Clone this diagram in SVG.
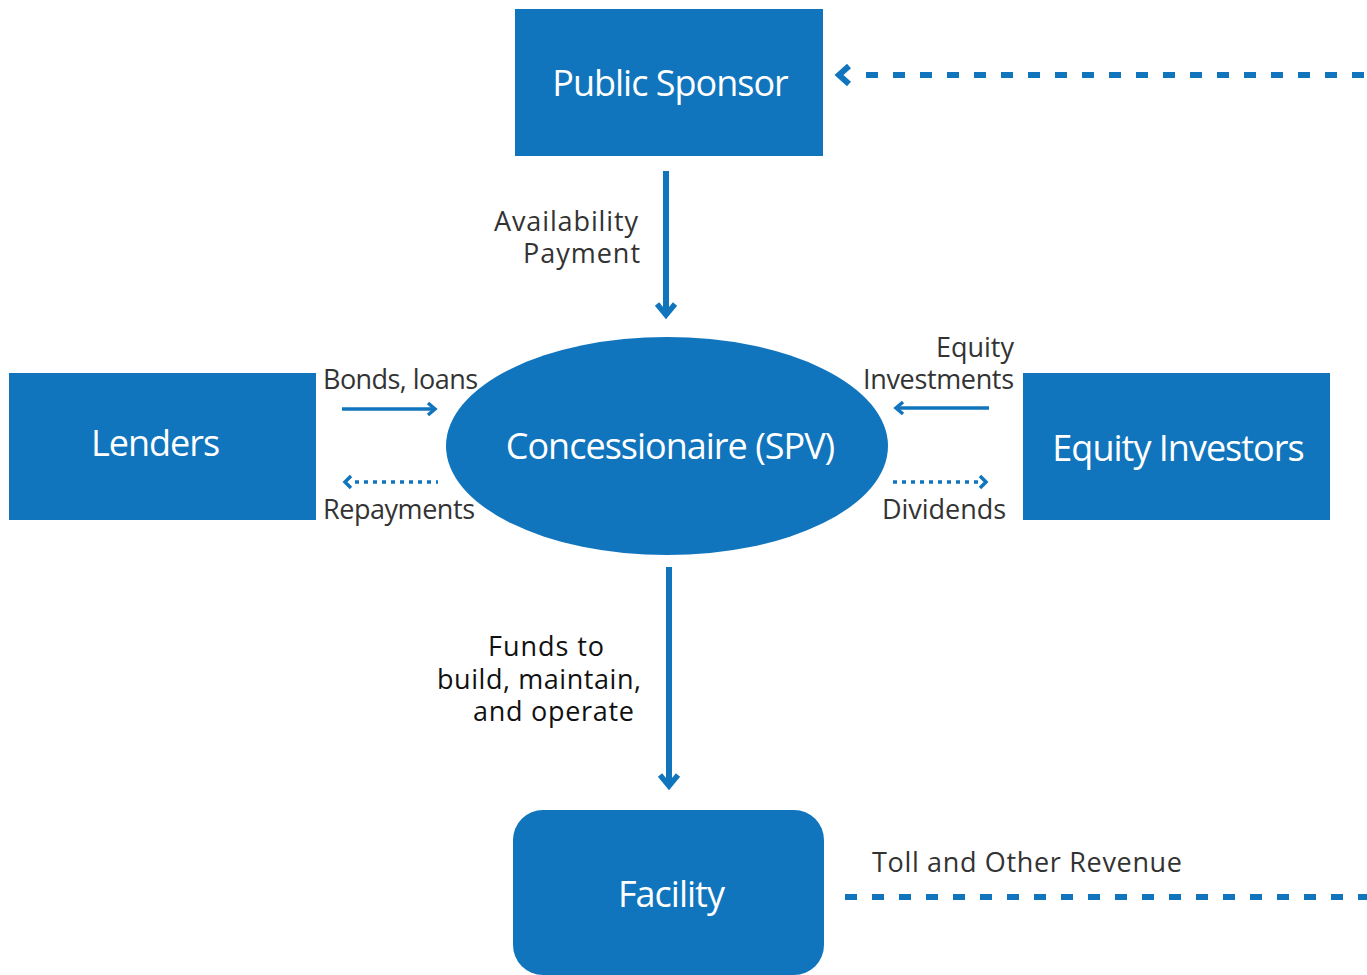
<svg xmlns="http://www.w3.org/2000/svg" width="1367" height="975" viewBox="0 0 1367 975">
  <defs>
    <style>
      .node { fill: #1175bd; }
      .ntext { fill: #ffffff; font-family: "Open Sans", "Noto Sans", sans-serif; font-size: 36px; text-anchor: middle; letter-spacing: -1px; }
      .lbl { fill: #333333; font-family: "Open Sans", "Noto Sans", sans-serif; font-size: 27px; }
      .lbl-dark { fill: #111111; }
      .main { stroke: #1175bd; stroke-width: 6; fill: none; }
      .thin { stroke: #1175bd; stroke-width: 3.5; fill: none; }
      .dots { stroke: #1175bd; stroke-width: 3.5; fill: none; stroke-dasharray: 4 5; }
      .dash { stroke: #1175bd; stroke-width: 6; fill: none; stroke-dasharray: 12 15; }
      .head { stroke: #1175bd; fill: none; stroke-linecap: butt; stroke-linejoin: miter; }
    </style>
  </defs>

  <g id="public-sponsor">
    <rect class="node" x="515" y="9" width="308" height="147"/>
    <text class="ntext" x="670" y="96">Public Sponsor</text>
  </g>

  <g id="lenders">
    <rect class="node" x="9" y="373" width="307" height="147"/>
    <text class="ntext" x="155" y="456">Lenders</text>
  </g>

  <g id="spv">
    <ellipse class="node" cx="667" cy="446" rx="221" ry="109"/>
    <text class="ntext" x="670" y="459">Concessionaire (SPV)</text>
  </g>

  <g id="equity-investors">
    <rect class="node" x="1023" y="373" width="307" height="147"/>
    <text class="ntext" x="1178" y="461">Equity Investors</text>
  </g>

  <g id="facility">
    <rect class="node" x="513" y="810" width="311" height="165" rx="30" ry="30"/>
    <text class="ntext" x="671" y="907">Facility</text>
  </g>

  <g id="connectors">
    <!-- revenue loop back to sponsor -->
    <line class="dash" x1="866" y1="75" x2="1367" y2="75"/>
    <polyline class="head" stroke-width="6" points="849,66 839,75 849,84"/>

    <!-- availability payment -->
    <line class="main" x1="666" y1="171" x2="666" y2="316"/>
    <polyline class="head" stroke-width="5.5" points="657,304 666,315 675,304"/>

    <!-- lenders flows -->
    <line class="thin" x1="342" y1="409" x2="434" y2="409"/>
    <polyline class="head" stroke-width="3.5" points="428,403 435,409 428,415"/>
    <line class="dots" x1="355" y1="482" x2="438" y2="482"/>
    <polyline class="head" stroke-width="3.5" points="351,476 345,482 351,488"/>

    <!-- equity flows -->
    <line class="thin" x1="898" y1="408" x2="989" y2="408"/>
    <polyline class="head" stroke-width="3.5" points="903,402 896,408 903,414"/>
    <line class="dots" x1="893" y1="482" x2="978" y2="482"/>
    <polyline class="head" stroke-width="3.5" points="980,476 986,482 980,488"/>

    <!-- funds to facility -->
    <line class="main" x1="669" y1="567" x2="669" y2="786"/>
    <polyline class="head" stroke-width="5.5" points="660,775 669,786 678,775"/>

    <!-- toll revenue -->
    <line class="dash" x1="845" y1="897" x2="1367" y2="897"/>
  </g>

  <g id="labels">
    <text class="lbl" x="494" y="231" textLength="144" lengthAdjust="spacing">Availability</text>
    <text class="lbl" x="523" y="263" textLength="117" lengthAdjust="spacing">Payment</text>
    <text class="lbl" x="323" y="389" textLength="155" lengthAdjust="spacing">Bonds, loans</text>
    <text class="lbl" x="323" y="519" textLength="152" lengthAdjust="spacing">Repayments</text>
    <text class="lbl" x="936" y="357" textLength="78" lengthAdjust="spacing">Equity</text>
    <text class="lbl" x="863" y="389" textLength="151" lengthAdjust="spacing">Investments</text>
    <text class="lbl" x="882" y="519" textLength="124" lengthAdjust="spacing">Dividends</text>
    <text class="lbl lbl-dark" x="488" y="656" textLength="116" lengthAdjust="spacing">Funds to</text>
    <text class="lbl lbl-dark" x="437" y="689" textLength="204" lengthAdjust="spacing">build, maintain,</text>
    <text class="lbl lbl-dark" x="473" y="721" textLength="161" lengthAdjust="spacing">and operate</text>
    <text class="lbl" x="872" y="872" textLength="310" lengthAdjust="spacing">Toll and Other Revenue</text>
  </g>
</svg>
